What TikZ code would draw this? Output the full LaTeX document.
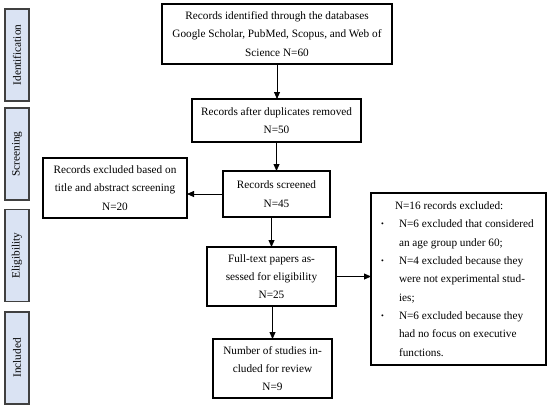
\documentclass[tikz,border=0pt]{standalone}
\usepackage{fontspec}
\setmainfont{Liberation Serif}
\usepackage{tikz}
\usetikzlibrary{positioning}
\usetikzlibrary{shapes,arrows.meta,calc}
\usepackage{color}
\definecolor{sidefill}{RGB}{218,227,243}
\definecolor{sideline}{RGB}{64,64,64}
\tikzset{
    %Define standard arrow tip
    >={Triangle[length=7bp,width=6bp]},
    % Define arrow style
    pil/.style={
           ->,
           line width=0.8bp,}
}
\newcommand{\sidewidth}{24bp}
\newcommand{\sideheight}{92bp}
\newcommand{\boxfont}{\fontsize{11.3}{18.4}\selectfont}
\newcommand{\dotitem}{{\footnotesize\raisebox{1bp}{\textbullet}}}

\begin{document}
\begin{tikzpicture}[x=1bp, y=-1bp, outer sep = 0pt]
\tikzstyle{phase}=[ draw=sideline,
                  line width=1.8bp,
                  rectangle,
                  rotate=90,
                  minimum width=\sideheight, minimum height=\sidewidth,
                  fill=sidefill,
                  inner sep=0pt,
                  font=\boxfont]
\tikzstyle{rec}=[ draw=black,
                  line width=1.1bp,
                  rectangle,
                  align=center,
                  inner sep=0pt,
                  font=\boxfont,
                  anchor=north west]

\useasboundingbox (0,0) rectangle (550,408);

\node[phase] (idlab)  at (17,55)    {Identification};
\node[phase] (scrlab) at (17,154)   {Screening};
\node[phase] (ellab)  at (17,255.5) {Eligibility};
\node[phase] (inlab)  at (17,358)   {Included};

\node[rec, minimum width=230bp, minimum height=60bp] (ident) at (162,4)
    {Records identified through the databases\\Google Scholar, PubMed, Scopus, and Web of\\Science N=60};
\node[rec, minimum width=169bp, minimum height=43bp] (dup) at (192,99)
    {Records after duplicates removed\\N=50};
\node[rec, minimum width=107bp, minimum height=46bp] (scr) at (223,171)
    {Records screened\\N=45};
\node[rec, minimum width=144bp, minimum height=60bp] (excl) at (43,158)
    {Records excluded based on\\title and abstract screening\\N=20};
\node[rec, minimum width=129bp, minimum height=59bp] (full) at (207,247)
    {Full-text papers as-\\sessed for eligibility\\N=25};
\node[rec, minimum width=119bp, minimum height=59bp] (num) at (213,339)
    {Number of studies in-\\cluded for review\\N=9};
\node[rec, minimum width=175bp, minimum height=172bp] (out) at (371,193)
    {\begin{tabular}{@{\hspace{10bp}}p{18bp}@{}p{147bp}@{}}
     \multicolumn{2}{@{\hspace{10bp}}l@{}}{\hspace*{14bp}N=16 records excluded:}\\
     \dotitem & N=6 excluded that considered\\
      & an age group under 60;\\
     \dotitem & N=4 excluded because they\\
      & were not experimental stud-\\
      & ies;\\
     \dotitem & N=6 excluded because they\\
      & had no focus on executive\\
      & functions.
     \end{tabular}};

\draw[pil] (ident.south) -- (ident.south |- dup.north);
\draw[pil] (dup.south) -- (scr.north);
\draw[pil] (full.north |- scr.south) -- (full.north);
\draw[pil] (num.north |- full.south) -- (num.north);
\draw[pil] (scr.west) -- (scr.west -| excl.east);
\draw[pil] (full.east) -- (full.east -| out.west);

\end{tikzpicture}
\end{document}
